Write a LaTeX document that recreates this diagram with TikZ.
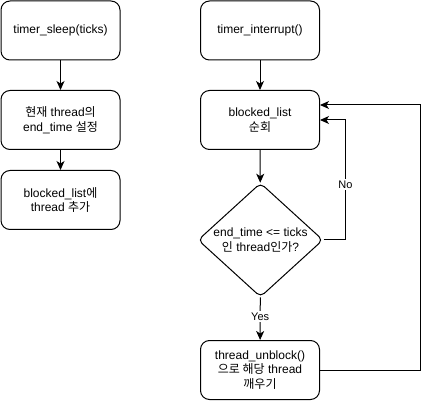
\documentclass[tikz,border=0pt]{standalone}
\usepackage{fontspec}
\setmainfont{Liberation Sans}
\newfontfamily\krfont{Noto Sans CJK KR}
\newcommand{\K}[1]{{\krfont #1}}
\usetikzlibrary{shapes.geometric,arrows.meta}
\begin{document}
\begin{tikzpicture}[x=1pt,y=-1pt,
  txt/.style={align=center,font=\fontsize{12}{14.5}\selectfont},
  box/.style={draw,line width=1pt,rounded corners=9pt,minimum width=119pt,minimum height=59pt,inner sep=0pt,txt},
  dia/.style={draw,line width=1pt,shape=diamond,rounded corners=5pt,minimum width=125pt,minimum height=114pt,inner sep=0pt},
  arr/.style={draw,line width=1pt,-{Stealth[length=9pt,width=8pt,inset=2.5pt]}},
  lbl/.style={fill=white,inner sep=1.5pt,font=\fontsize{11}{13}\selectfont}
]
\useasboundingbox (0,0) rectangle (429,401);
\node[box] (s1) at (60.5,30.5) {timer\_sleep(ticks)};
\node[box] (s2) at (60.5,120) {\K{현재} thread\K{의}\\end\_time \K{설정}};
\node[box] (s3) at (60.5,200) {blocked\_list\K{에}\\thread \K{추가}};
\node[box] (r1) at (260,30.5) {timer\_interrupt()};
\node[box] (r2) at (260,120) {blocked\_list\\\K{순회}};
\node[dia] (d) at (260.5,240) {};
\node[txt] (dt) at (d) {end\_time <= ticks\\\K{인} thread\K{인가}?};
\node[box] (r3) at (260,370) {thread\_unblock()\\\K{으로 해당} thread\\\K{깨우기}};
\draw[arr] (s1) -- (s2);
\draw[arr] (s2) -- (s3);
\draw[arr] (r1) -- (r2);
\draw[arr] (r2) -- (d);
\draw[arr] (d) -- node[lbl,pos=0.45]{Yes} (r3);
\draw[arr] (d.east) -- ++(22,0) coordinate (nc) -- node[lbl,pos=0.46]{No} (nc |- r2.east) -- (r2.east);
\draw[arr] (r3.east) -| ([xshift=100pt,yshift=15pt]r2.east) -- ([yshift=15pt]r2.east);
\end{tikzpicture}
\end{document}
